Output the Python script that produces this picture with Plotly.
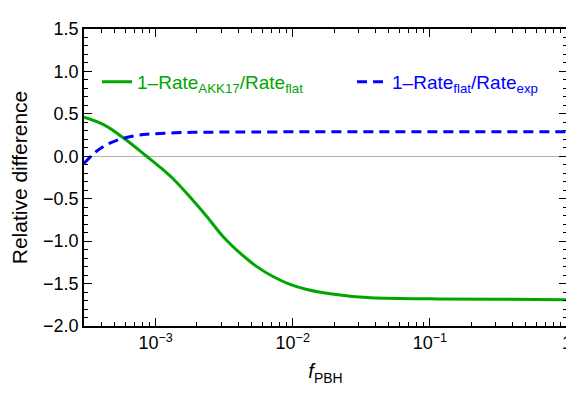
import plotly.graph_objects as go

# Data
f_green = [3.0e-4, 4.2e-4, 5.9e-4, 8.6e-4, 1.08e-3, 1.35e-3, 1.78e-3, 2.36e-3, 3.12e-3,
           4.13e-3, 5.47e-3, 7.23e-3, 9.55e-3, 1.27e-2, 1.87e-2, 3.47e-2, 0.1, 0.3, 1.0]
y_green = [0.46, 0.37, 0.21, 0.0, -0.13, -0.27, -0.48, -0.71, -0.95,
           -1.14, -1.30, -1.42, -1.51, -1.57, -1.62, -1.665, -1.68, -1.685, -1.69]

f_blue = [3.0e-4, 3.55e-4, 4.2e-4, 5.25e-4, 6.95e-4, 9.2e-4, 1.6e-3, 3.0e-3, 1.0e-2, 1.0]
y_blue = [-0.085, 0.035, 0.12, 0.19, 0.24, 0.263, 0.28, 0.285, 0.288, 0.29]

x_tickvals = [1e-3, 1e-2, 1e-1, 1]
x_ticktext = ["10<sup>−3</sup>", "10<sup>−2</sup>", "10<sup>−1</sup>", "1"]
x_minor = [m * 10.0 ** e for e in (-4, -3, -2, -1) for m in range(2, 10)]
x_minor = [v for v in x_minor if 3e-4 <= v <= 1]

y_tickvals = [-2.0, -1.5, -1.0, -0.5, 0.0, 0.5, 1.0, 1.5]
y_ticktext = ["−2.0", "−1.5", "−1.0", "−0.5", "0.0", "0.5", "1.0", "1.5"]

GREEN = "#00a600"
BLUE = "#0000ff"
FONT = "Liberation Sans, Arial, sans-serif"

fig = go.Figure()
fig.add_trace(go.Scatter(
    x=f_green, y=y_green, mode="lines", line=dict(color=GREEN, width=3, shape="spline", smoothing=1.0),
    name='<span style="color:%s">1–Rate<sub>AKK17</sub>/Rate<sub>flat</sub></span>' % GREEN,
    legendwidth=210))
fig.add_trace(go.Scatter(
    x=f_blue, y=y_blue, mode="lines", line=dict(color=BLUE, width=3, dash="10px,6px", shape="spline", smoothing=1.0),
    name='<span style="color:%s">1–Rate<sub>flat</sub>/Rate<sub>exp</sub></span>' % BLUE,
    legendwidth=150))

axis_common = dict(
    showline=True, linecolor="black", linewidth=1.7, mirror="allticks",
    ticks="inside", ticklen=8, tickwidth=1.2, tickcolor="black",
    showgrid=False, tickfont=dict(family=FONT, size=18, color="black"),
    automargin=False,
)

fig.update_xaxes(
    type="log", range=[-3.5229, 0.0005],
    tickmode="array", tickvals=x_tickvals, ticktext=x_ticktext,
    minor=dict(tickmode="array", tickvals=x_minor, ticks="inside", ticklen=4, tickcolor="black", tickwidth=1),
    title=dict(text="<i>f</i><sub>PBH</sub>", font=dict(family=FONT, size=20, color="black"), standoff=12),
    zeroline=False, **axis_common)
fig.update_yaxes(
    range=[-2.0, 1.5],
    tickmode="array", tickvals=y_tickvals, ticktext=y_ticktext,
    minor=dict(dtick=0.1, ticks="inside", ticklen=4, tickcolor="black", tickwidth=1),
    title=dict(text="Relative difference", font=dict(family=FONT, size=21, color="black"), standoff=30),
    zeroline=True, zerolinecolor="#b4b4b4", zerolinewidth=1,
    **axis_common)

fig.update_layout(
    width=566, height=391,
    margin=dict(l=76, r=7, t=21, b=73, autoexpand=False),
    plot_bgcolor="white", paper_bgcolor="white",
    font=dict(family=FONT, size=18, color="black"),
    showlegend=True,
    legend=dict(orientation="h", x=0.027, y=0.822, xanchor="left", yanchor="middle",
                bgcolor="rgba(0,0,0,0)", font=dict(family=FONT, size=19),
                itemwidth=30),
)

fig.write_html("out.html")
